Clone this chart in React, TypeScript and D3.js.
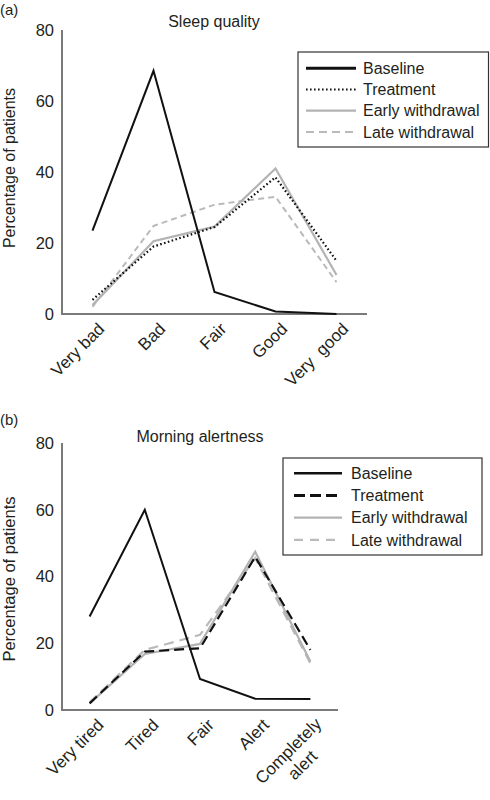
import React from "react";
import * as d3 from "d3";

// ---------- Data ----------
const seriesNames = ["Baseline", "Treatment", "Early withdrawal", "Late withdrawal"];
const yTicks = [0, 20, 40, 60, 80];

const sleepCategories = ["Very bad", "Bad", "Fair", "Good", "Very  good"];
const sleepBaseline = [23.5, 68.5, 6.2, 0.7, 0];
const sleepTreatment = [4, 19, 24.5, 38.5, 15];
const sleepEarly = [2.5, 20.5, 24.6, 41, 11];
const sleepLate = [2, 24.8, 30.8, 33, 9];

const alertCategories = ["Very tired", "Tired", "Fair", "Alert", "Completely|alert"];
const alertBaseline = [28, 60, 9.3, 3.4, 3.3];
const alertTreatment = [2, 17.5, 18.5, 45.9, 18];
const alertEarly = [2, 16.8, 19.8, 47.4, 14.5];
const alertLate = [2.3, 18, 22.5, 45.5, 14];

const FONT = "'Liberation Sans', Arial, Helvetica, sans-serif";
const AXIS_COLOR = "#7a7a7a";

type Style = { color: string; width: number; dash?: string; legendWidth?: number; legendDash?: string };

type PanelProps = {
  tag: string;
  tagY: number;
  title: string;
  titleX: number;
  titleY: number;
  categories: string[];
  series: number[][];
  styles: Style[];
  x0: number;
  x1: number;
  yBottom: number;
  yTop: number;
  yLabelSize: number;
  yLabelCenter: number;
  legend: { x: number; y: number; w: number; h: number; rowY0: number; rowStep: number; lx0: number; lx1: number; tx: number };
  labelDx: number;
};

function Panel(p: PanelProps) {
  const x = d3.scalePoint<string>().domain(p.categories).range([p.x0, p.x1]).padding(0.5);
  const y = d3.scaleLinear().domain([0, 80]).range([p.yBottom, p.yTop]);
  const line = d3
    .line<number>()
    .x((_, i) => x(p.categories[i]) as number)
    .y((d) => y(d));
  const order = [3, 2, 1, 0];
  return (
    <g fontFamily={FONT} fill="#231f20">
      <text x={0} y={p.tagY} fontSize={15}>{p.tag}</text>
      <text x={p.titleX} y={p.titleY} fontSize={16} textAnchor="middle">{p.title}</text>
      {/* axes */}
      <line x1={p.x0} x2={p.x0} y1={p.yTop} y2={p.yBottom + 1} stroke={AXIS_COLOR} strokeWidth={2} />
      <line x1={p.x0 - 1} x2={p.x1} y1={p.yBottom} y2={p.yBottom} stroke={AXIS_COLOR} strokeWidth={2} />
      {yTicks.map((t) => (
        <text key={t} x={54} y={y(t)} dy="0.36em" fontSize={16.5} textAnchor="end">{t}</text>
      ))}
      <text
        transform={`translate(15, ${p.yLabelCenter}) rotate(-90)`}
        fontSize={p.yLabelSize}
        textAnchor="middle"
      >
        Percentage of patients
      </text>
      {p.categories.map((c) => {
        const cx = x(c) as number;
        const lines = c.split("|");
        if (lines.length === 1) {
          return (
            <text
              key={c}
              transform={`translate(${cx + p.labelDx}, ${p.yBottom + 16}) rotate(-45)`}
              fontSize={17}
              textAnchor="end"
              style={{ whiteSpace: "pre" }}
            >
              {c}
            </text>
          );
        }
        return (
          <text
            key={c}
            transform={`translate(${cx - 18}, ${p.yBottom + 45}) rotate(-45)`}
            fontSize={17}
            textAnchor="middle"
          >
            {lines.map((l, i) => (
              <tspan key={i} x={0} dy={i === 0 ? 0 : 20}>{l}</tspan>
            ))}
          </text>
        );
      })}
      {/* series */}
      {order.map((i) => (
        <path
          key={i}
          d={line(p.series[i]) as string}
          fill="none"
          stroke={p.styles[i].color}
          strokeWidth={p.styles[i].width}
          strokeDasharray={p.styles[i].dash}
          strokeLinejoin="miter"
        />
      ))}
      {/* legend */}
      <rect x={p.legend.x} y={p.legend.y} width={p.legend.w} height={p.legend.h} fill="white" stroke="#333" strokeWidth={1.2} />
      {seriesNames.map((n, i) => {
        const ry = p.legend.rowY0 + i * p.legend.rowStep;
        const s = p.styles[i];
        return (
          <g key={n}>
            <line
              x1={p.legend.lx0}
              x2={p.legend.lx1}
              y1={ry}
              y2={ry}
              stroke={s.color}
              strokeWidth={s.legendWidth ?? s.width}
              strokeDasharray={s.legendDash ?? s.dash}
            />
            <text x={p.legend.tx} y={ry} dy="0.36em" fontSize={16}>{n}</text>
          </g>
        );
      })}
    </g>
  );
}

const sleepStyles: Style[] = [
  { color: "#111", width: 2, legendWidth: 3 },
  { color: "#111", width: 2.2, dash: "1.6,2.4", legendDash: "1.6,2.4" },
  { color: "#b3b3b3", width: 2.2 },
  { color: "#bababa", width: 2, dash: "6,4", legendDash: "8,5" },
];

const alertStyles: Style[] = [
  { color: "#111", width: 2, legendWidth: 2.4 },
  { color: "#111", width: 2.2, dash: "10,5", legendWidth: 3, legendDash: "11,5" },
  { color: "#b3b3b3", width: 2.2 },
  { color: "#bababa", width: 2.2, dash: "10,6", legendDash: "9,7" },
];

export default function App() {
  return (
    <svg
      width={490}
      height={800}
      style={{ position: "absolute", left: 0, top: 0, background: "white" }}
    >
      <rect width={490} height={800} fill="white" />
      <Panel
        tag="(a)"
        tagY={15}
        title="Sleep quality"
        titleX={214}
        titleY={27}
        categories={sleepCategories}
        series={[sleepBaseline, sleepTreatment, sleepEarly, sleepLate]}
        styles={sleepStyles}
        x0={62}
        x1={367}
        yBottom={314}
        yTop={30}
        yLabelSize={16}
        yLabelCenter={168}
        legend={{ x: 298, y: 52, w: 190.5, h: 95, rowY0: 68.3, rowStep: 21.2, lx0: 306, lx1: 356, tx: 363 }}
        labelDx={13}
      />
      <Panel
        tag="(b)"
        tagY={425}
        title="Morning alertness"
        titleX={200}
        titleY={442}
        categories={alertCategories}
        series={[alertBaseline, alertTreatment, alertEarly, alertLate]}
        styles={alertStyles}
        x0={62}
        x1={338}
        yBottom={710}
        yTop={443}
        yLabelSize={16.5}
        yLabelCenter={579}
        legend={{ x: 283, y: 458, w: 199, h: 97, rowY0: 473.3, rowStep: 22.2, lx0: 294, lx1: 342, tx: 351 }}
        labelDx={15}
      />
    </svg>
  );
}
